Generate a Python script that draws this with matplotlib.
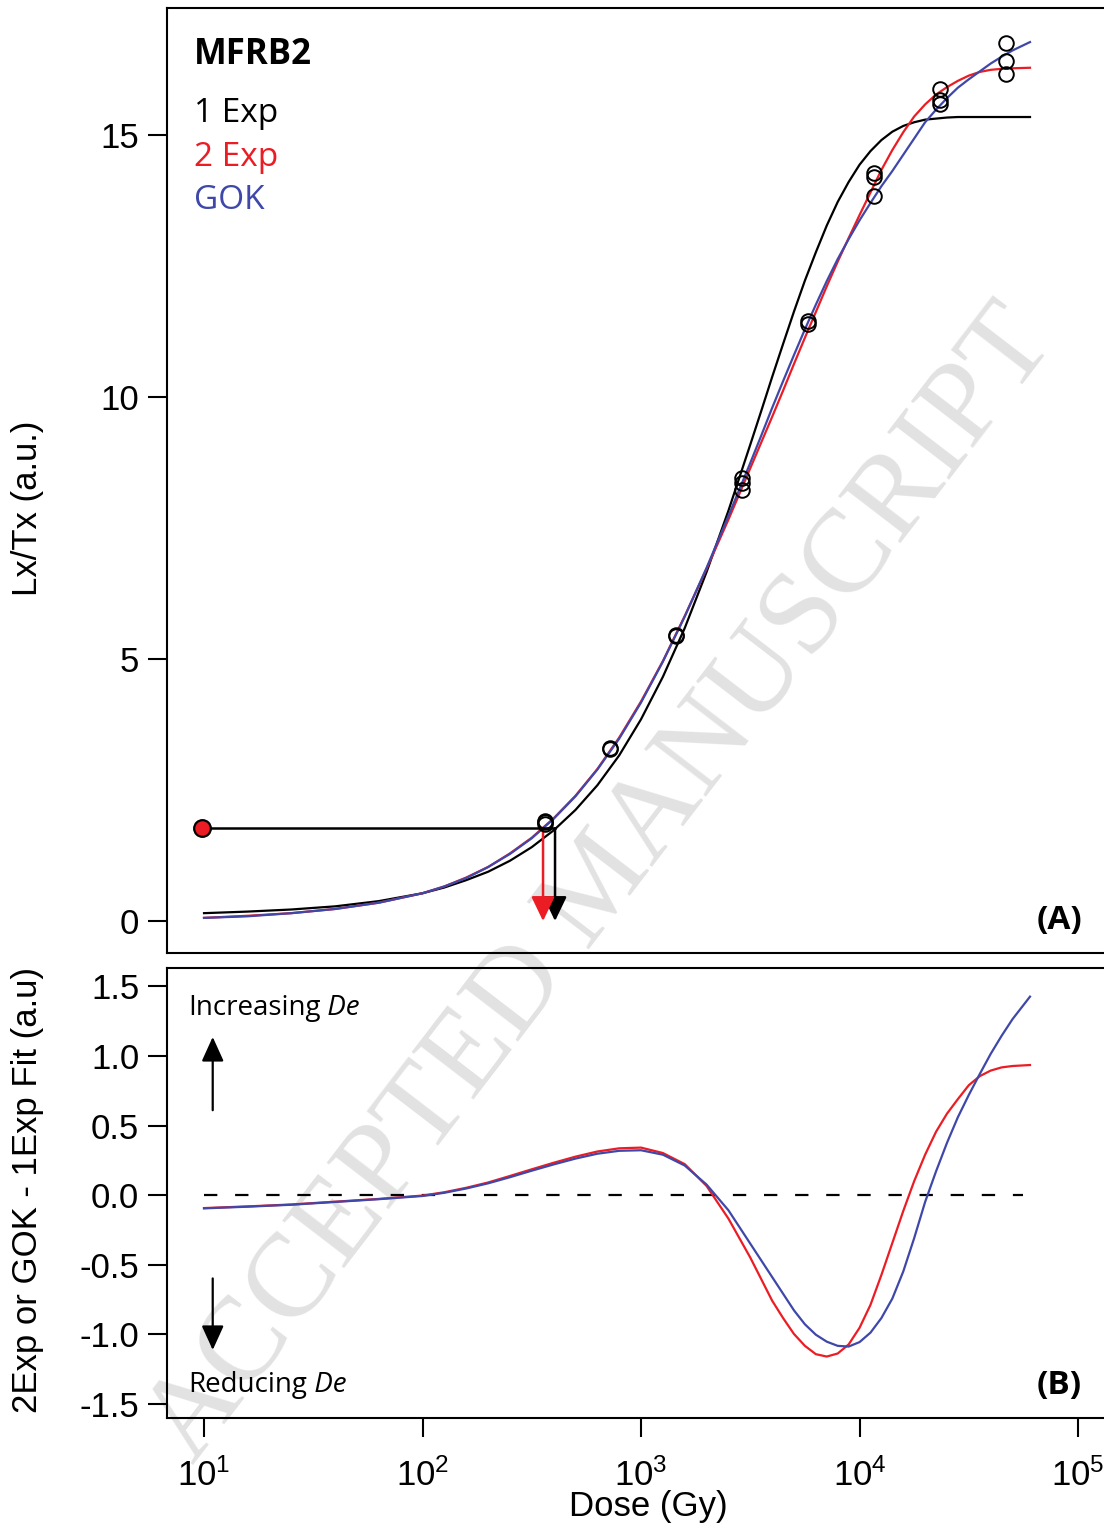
import matplotlib.pyplot as plt
from matplotlib.ticker import NullLocator

plt.rcParams["font.family"] = ["Liberation Sans", "DejaVu Sans"]
plt.rcParams["axes.unicode_minus"] = False
plt.rcParams["mathtext.default"] = "regular"

RED = "#ec1c24"
BLUE = "#3f48a9"
TXT_FONT = "Open Sans"

# measured Lx/Tx points (dose in Gy)
pt_dose = [362, 362, 362, 722, 722, 1450, 1450, 2900, 2900, 2900, 5790, 5790,
           11700, 11700, 11700, 23300, 23300, 23300, 46800, 46800, 46800]
pt_lxtx = [1.91, 1.88, 1.86, 3.30, 3.28, 5.46, 5.44, 8.45, 8.35, 8.23, 11.44, 11.40,
           14.27, 14.20, 13.84, 15.87, 15.67, 15.59, 16.75, 16.40, 16.16]

# natural signal and the two De values
nat_dose = 9.8
nat_lxtx = 1.77
de_1exp = 404
de_2exp = 356

# dose grid the curves were read at (Gy)
fit_dose = [10, 15.8, 25.1, 39.8, 63.1, 100, 125.9, 158.5, 199.5, 251.2, 316.2, 398.1,
            501.2, 631.0, 794.3, 1000, 1259, 1585, 1995, 2512, 3162, 3548, 3981, 4467,
            5012, 5623, 6310, 7079, 7943, 8913, 10000, 11220, 12589, 14125, 15849,
            17783, 19953, 22387, 25119, 28184, 31623, 35481, 39811, 44668, 50119, 60256]

# fitted curves, panel A
fit_1exp = [0.15, 0.18, 0.22, 0.28, 0.38, 0.53, 0.64, 0.78, 0.94, 1.15, 1.41, 1.73,
            2.12, 2.59, 3.16, 3.85, 4.66, 5.59, 6.66, 7.83, 9.09, 9.73, 10.38, 11.01,
            11.63, 12.22, 12.76, 13.27, 13.72, 14.10, 14.43, 14.69, 14.90, 15.06, 15.17,
            15.24, 15.29, 15.31, 15.33, 15.34, 15.34, 15.34, 15.34, 15.34, 15.34, 15.34]
fit_2exp = [0.06, 0.10, 0.15, 0.23, 0.35, 0.53, 0.66, 0.83, 1.03, 1.29, 1.59, 1.96,
            2.39, 2.90, 3.50, 4.19, 4.96, 5.82, 6.72, 7.66, 8.64, 9.13, 9.62, 10.12,
            10.63, 11.13, 11.62, 12.11, 12.58, 13.03, 13.47, 13.90, 14.33, 14.71, 15.05,
            15.35, 15.58, 15.77, 15.91, 16.03, 16.13, 16.20, 16.24, 16.26, 16.27, 16.28]
fit_gok = [0.06, 0.09, 0.15, 0.23, 0.35, 0.53, 0.66, 0.82, 1.03, 1.28, 1.58, 1.95,
           2.38, 2.89, 3.48, 4.17, 4.95, 5.81, 6.74, 7.73, 8.74, 9.26, 9.79, 10.30,
           10.80, 11.29, 11.76, 12.21, 12.63, 13.01, 13.37, 13.70, 14.02, 14.31, 14.62,
           14.93, 15.24, 15.48, 15.70, 15.90, 16.06, 16.21, 16.36, 16.49, 16.61, 16.77]

# differences to the 1 Exp fit, panel B
diff_2exp = [-0.094, -0.082, -0.068, -0.048, -0.028, -0.004, 0.020, 0.052, 0.090, 0.137,
             0.185, 0.232, 0.276, 0.313, 0.336, 0.341, 0.302, 0.222, 0.065, -0.170,
             -0.450, -0.605, -0.760, -0.885, -1.000, -1.085, -1.145, -1.162, -1.140,
             -1.075, -0.955, -0.790, -0.575, -0.345, -0.115, 0.100, 0.290, 0.455, 0.585,
             0.690, 0.790, 0.855, 0.895, 0.918, 0.928, 0.935]
diff_gok = [-0.096, -0.084, -0.070, -0.050, -0.030, -0.007, 0.016, 0.047, 0.084, 0.128,
            0.175, 0.220, 0.262, 0.297, 0.318, 0.322, 0.290, 0.212, 0.075, -0.110,
            -0.350, -0.470, -0.590, -0.710, -0.830, -0.930, -1.005, -1.055, -1.085,
            -1.090, -1.058, -0.990, -0.885, -0.745, -0.550, -0.310, -0.050, 0.170, 0.375,
            0.560, 0.720, 0.870, 1.015, 1.145, 1.265, 1.427]
zero_dose = [10, 55900]

xticks = [10, 100, 1000, 10000, 100000]
xticklabels = ["$10^{1}$", "$10^{2}$", "$10^{3}$", "$10^{4}$", "$10^{5}$"]
yticks_a = [0, 5, 10, 15]
yticks_b = [1.5, 1.0, 0.5, 0.0, -0.5, -1.0, -1.5]
yticklabels_b = ["1.5", "1.0", "0.5", "0.0", "-0.5", "-1.0", "-1.5"]
arrow_dose = 10.96

W, H = 1104, 1526


def fx(x):
    return x / W


def fy(y):
    return 1 - y / H


fig = plt.figure(figsize=(W / 100, H / 100), dpi=100)
fig.patch.set_facecolor("white")

# watermark behind everything
fig.text(fx(602), fy(885), "ACCEPTED MANUSCRIPT", rotation=52.5, fontsize=86,
         color="#e2e2e2", family="Liberation Serif", ha="center", va="center", zorder=-1)

right = 1110
ax1 = fig.add_axes([fx(167), fy(953), fx(right - 167), (953 - 8) / H])
ax2 = fig.add_axes([fx(167), fy(1418), fx(right - 167), (1418 - 968) / H])

for ax in (ax1, ax2):
    ax.set_facecolor("none")
    ax.set_xscale("log")
    ax.set_xlim(6.77, 1.40e5)
    ax.xaxis.set_minor_locator(NullLocator())
    for sp in ax.spines.values():
        sp.set_linewidth(1.5)
    ax.tick_params(direction="out", length=14, width=1.5, labelsize=25, pad=6)

# ---- panel A ----
ax1.set_ylim(-0.61, 17.42)
ax1.set_yticks(yticks_a)
ax1.tick_params(axis="x", bottom=False, labelbottom=False)

ax1.plot(fit_dose, fit_1exp, color="black", lw=1.6)
ax1.plot(fit_dose, fit_2exp, color=RED, lw=1.6)
ax1.plot(fit_dose, fit_gok, color=BLUE, lw=1.6)
ax1.plot(pt_dose, pt_lxtx, "o", ms=10.5, mfc="none", mec="black", mew=1.4, zorder=4)

ax1.plot([nat_dose, de_1exp], [nat_lxtx, nat_lxtx], color="black", lw=1.8, zorder=3)
ax1.annotate("", xy=(de_1exp, 0), xytext=(de_1exp, nat_lxtx),
             arrowprops=dict(arrowstyle="-|>,head_length=0.75,head_width=0.36",
                             mutation_scale=20, color="black", lw=1.8,
                             shrinkA=0, shrinkB=0))
ax1.annotate("", xy=(de_2exp, 0), xytext=(de_2exp, nat_lxtx - 0.05),
             arrowprops=dict(arrowstyle="-|>,head_length=0.75,head_width=0.36",
                             mutation_scale=20, color=RED, lw=1.8,
                             shrinkA=0, shrinkB=0))
ax1.plot(nat_dose, nat_lxtx, "o", ms=12, mfc=RED, mec="black", mew=1.6, zorder=5,
         clip_on=False)

ax1.set_ylabel("Lx/Tx (a.u.)", fontsize=25)
ax1.yaxis.set_label_coords(-0.130, 0.471)

fig.text(fx(194), fy(64), "MFRB2", fontsize=25, fontweight="bold", family=TXT_FONT)
fig.text(fx(194), fy(122), "1 Exp", fontsize=24, color="black", family=TXT_FONT)
fig.text(fx(194), fy(166), "2 Exp", fontsize=24, color=RED, family=TXT_FONT)
fig.text(fx(194), fy(209), "GOK", fontsize=24, color=BLUE, family=TXT_FONT)
fig.text(fx(1082), fy(929), "(A)", fontsize=24, fontweight="bold", family=TXT_FONT,
         ha="right")

# ---- panel B ----
ax2.set_ylim(-1.604, 1.633)
ax2.set_yticks(yticks_b)
ax2.set_yticklabels(yticklabels_b)
ax2.set_xticks(xticks)
ax2.set_xticklabels(xticklabels)
ax2.tick_params(axis="x", length=14, pad=15)

ax2.plot(zero_dose, [0, 0], color="black", lw=1.6, ls=(0, (6, 8)))
ax2.plot(fit_dose, diff_2exp, color=RED, lw=1.6)
ax2.plot(fit_dose, diff_gok, color=BLUE, lw=1.6)

ax2.annotate("", xy=(arrow_dose, 1.137), xytext=(arrow_dose, 0.61),
             arrowprops=dict(arrowstyle="-|>,head_length=0.75,head_width=0.34",
                             mutation_scale=20, color="black", lw=1.6,
                             shrinkA=0, shrinkB=0))
ax2.annotate("", xy=(arrow_dose, -1.115), xytext=(arrow_dose, -0.60),
             arrowprops=dict(arrowstyle="-|>,head_length=0.75,head_width=0.34",
                             mutation_scale=20, color="black", lw=1.6,
                             shrinkA=0, shrinkB=0))

t1 = fig.text(fx(188), fy(1015), "Increasing", fontsize=20, family=TXT_FONT)
ax2.annotate(" De", xy=(1, 0), xycoords=t1, va="bottom", fontsize=20,
             family=TXT_FONT, style="italic")
t2 = fig.text(fx(188), fy(1392), "Reducing", fontsize=20, family=TXT_FONT)
ax2.annotate(" De", xy=(1, 0), xycoords=t2, va="bottom", fontsize=20,
             family=TXT_FONT, style="italic")
fig.text(fx(1082), fy(1394), "(B)", fontsize=24, fontweight="bold", family=TXT_FONT,
         ha="right")

ax2.set_ylabel("2Exp or GOK - 1Exp Fit (a.u)", fontsize=25)
ax2.yaxis.set_label_coords(-0.130, 0.507)
ax2.set_xlabel("Dose (Gy)", fontsize=25)
ax2.xaxis.set_label_coords(0.510, -0.16)

fig.savefig("out.png", dpi=100)
